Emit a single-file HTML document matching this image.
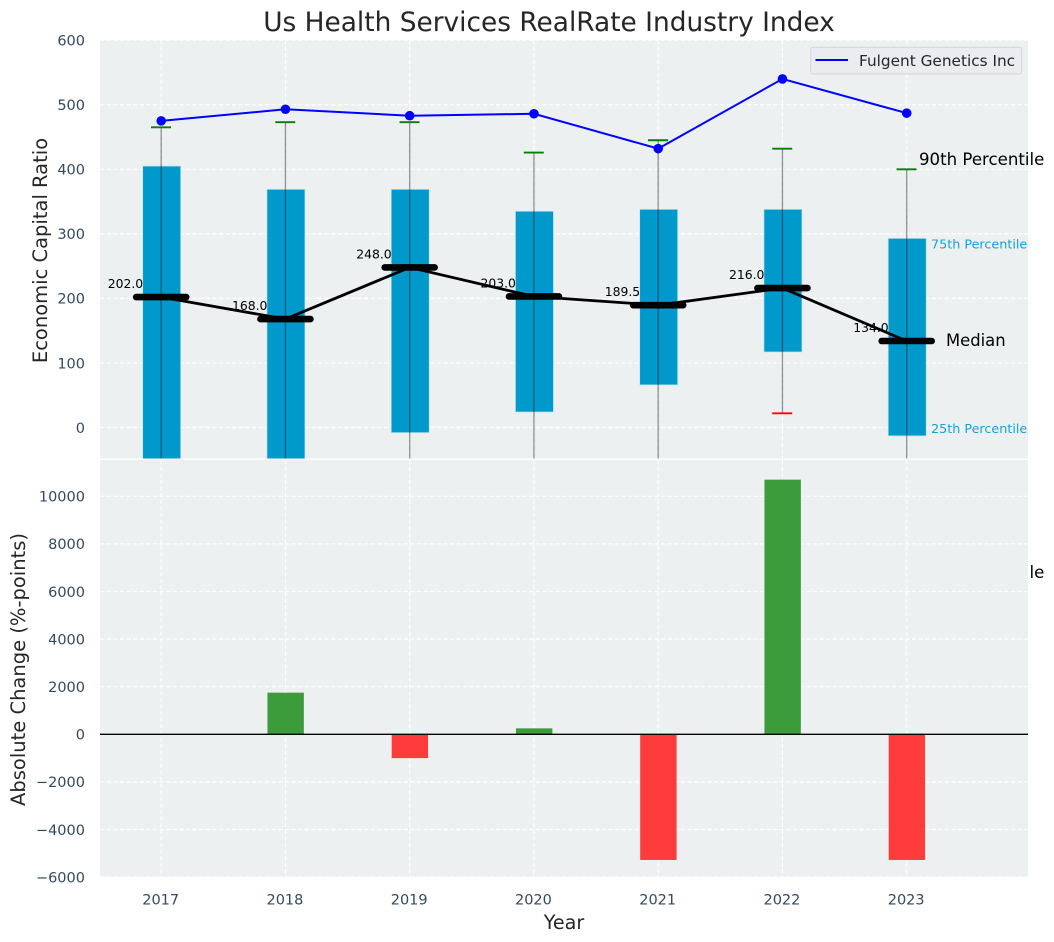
<!DOCTYPE html>
<html lang="en">
<head>
<meta charset="utf-8">
<title>Us Health Services RealRate Industry Index</title>
<style>
html,body{margin:0;padding:0;background:#fff;}
svg{display:block;font-family:"DejaVu Sans","Liberation Sans",sans-serif;}
</style>
</head>
<body>
<svg id="chart" xmlns="http://www.w3.org/2000/svg" width="1054" height="942" viewBox="0 0 1054 942">
  <defs>
    <clipPath id="top-clip"><rect x="100" y="40" width="928" height="418.5"></rect></clipPath>
    <clipPath id="bottom-clip"><rect x="100" y="460" width="928" height="417"></rect></clipPath>
  </defs>
  <text x="549" y="31" text-anchor="middle" font-size="26.4" fill="#262626">Us Health Services RealRate Industry Index</text>
  <rect x="100" y="40" width="928" height="418.5" fill="#ecf0f1"></rect>
  <g id="top-grid"></g>
  <g id="top-marks" clip-path="url(#top-clip)"></g>
  <text x="919" y="578" font-size="16.6" fill="#000">90th Percentile</text>
  <rect x="100" y="460" width="928" height="417" fill="#ecf0f1"></rect>
  <g id="bottom-grid"></g>
  <g id="bottom-marks" clip-path="url(#bottom-clip)"></g>
  <g id="labels"></g>
  <g id="notes"></g>
  <text x="919" y="165" font-size="16.6" fill="#000">90th Percentile</text>
  <text x="931" y="248.5" font-size="12.75" fill="#1a9fd0">75th Percentile</text>
  <text x="946" y="346" font-size="16.4" fill="#000">Median</text>
  <text x="931" y="433" font-size="12.75" fill="#1a9fd0">25th Percentile</text>
  <text transform="translate(47,250.5) rotate(-90)" text-anchor="middle" font-size="19.5" fill="#262626">Economic Capital Ratio</text>
  <text transform="translate(25,669.5) rotate(-90)" text-anchor="middle" font-size="19.5" fill="#262626">Absolute Change (%-points)</text>
  <text x="564" y="929" text-anchor="middle" font-size="19.2" fill="#262626">Year</text>
  <g>
    <rect x="810.7" y="47.3" width="211" height="26.7" rx="2.5" fill="#eaecf0" stroke="#d4d4d4" stroke-width="1"></rect>
    <line x1="815.5" y1="60" x2="848" y2="60" stroke="#0000ff" stroke-width="2"></line>
    <text x="859" y="66" font-size="15.3" fill="#262626">Fulgent Genetics Inc</text>
  </g>
</svg>
<script>
const years = [2017, 2018, 2019, 2020, 2021, 2022, 2023];
const p90 = [465, 473, 473, 426, 445, 432, 400];
const p75 = [405, 369, 369, 335, 338, 338, 293];
const medians = [202, 168, 248, 203, 189.5, 216, 134];
const p25 = [-100, -100, -8, 24, 66, 117, -13];
const p10 = [-150, -150, -150, -150, -150, 22, -150];
const company = [475, 493, 483, 486, 432, 540, 487];
const changes = [0, 1750, -1000, 250, -5280, 10700, -5280];
const topTicks = [0, 100, 200, 300, 400, 500, 600];
const bottomTicks = [-6000, -4000, -2000, 0, 2000, 4000, 6000, 8000, 10000];

const NS = 'http://www.w3.org/2000/svg';
const gTopGrid = document.getElementById('top-grid');
const gTop = document.getElementById('top-marks');
const gBotGrid = document.getElementById('bottom-grid');
const gBot = document.getElementById('bottom-marks');
const gLabels = document.getElementById('labels');
const gNotes = document.getElementById('notes');

function x(year) { return 161.2 + (year - 2017) * 124.25; }
function yTop(v) { return 427.5 - v * 0.6455; }
function yBot(v) { return 734.3 - v * 0.0238; }

function mk(parent, tag, props) {
  const el = document.createElementNS(NS, tag);
  for (const k in props) el.setAttribute(k, props[k]);
  parent.appendChild(el);
  return el;
}

const GRID = { stroke: '#ffffff', 'stroke-width': 1.2, 'stroke-dasharray': '4.4 2.2', opacity: 0.95 };

topTicks.forEach(function (t) {
  const g = mk(gTopGrid, 'line', Object.assign({ x1: 100, x2: 1028, y1: yTop(t), y2: yTop(t) }, GRID));
  
  
  const l = mk(gLabels, 'text', { x: 85, y: yTop(t) + 5.3, 'text-anchor': 'end', 'font-size': 14.5, fill: '#34495e' });
  l.textContent = String(t);
  
  
});

bottomTicks.forEach(function (t) {
  const g = mk(gBotGrid, 'line', Object.assign({ x1: 100, x2: 1028, y1: yBot(t), y2: yBot(t) }, GRID));
  
  
  const l = mk(gLabels, 'text', { x: 85, y: yBot(t) + 5.3, 'text-anchor': 'end', 'font-size': 14.5, fill: '#34495e' });
  l.textContent = String(t).replace('-', '\u2212');
  
  
});

years.forEach(function (yr) {
  const a = mk(gTopGrid, 'line', Object.assign({ x1: x(yr), x2: x(yr), y1: 40, y2: 458.5 }, GRID));
  
  
  const b = mk(gBotGrid, 'line', Object.assign({ x1: x(yr), x2: x(yr), y1: 460, y2: 877 }, GRID));
  
  
  const l = mk(gLabels, 'text', { x: x(yr) - 0.5, y: 904.5, 'text-anchor': 'middle', 'font-size': 14.5, fill: '#34495e' });
  l.textContent = String(yr);
  
  
});

/* interquartile boxes */
years.forEach(function (yr, i) {
  const r = mk(gTop, 'rect', { x: x(yr) - 18.5, width: 38, y: yTop(p75[i]), height: yTop(p25[i]) - yTop(p75[i]), fill: '#0099cc', stroke: '#bfe3ef', 'stroke-width': 0.7 });
  
  
});

/* whiskers and caps */
years.forEach(function (yr, i) {
  const w = mk(gTop, 'line', { x1: x(yr), x2: x(yr), y1: yTop(p90[i]), y2: yTop(p10[i]), stroke: '#000', 'stroke-opacity': 0.42, 'stroke-width': 1.3 });
  
  
  const hi = mk(gTop, 'line', { x1: x(yr) - 10.2, x2: x(yr) + 9.8, y1: yTop(p90[i]), y2: yTop(p90[i]), stroke: '#008000', 'stroke-width': 1.9 });
  
  
  const lo = mk(gTop, 'line', { x1: x(yr) - 10.2, x2: x(yr) + 9.8, y1: yTop(p10[i]), y2: yTop(p10[i]), stroke: '#ff0000', 'stroke-width': 1.9 });
  
  
});

/* median connecting line */
const medianLine = mk(gTop, 'polyline', {
  points: years.map(function (yr, i) { return x(yr) + ',' + yTop(medians[i]); }).join(' '),
  fill: 'none', stroke: '#000', 'stroke-width': 2.8
});



/* median bars and labels */
years.forEach(function (yr, i) {
  const m = mk(gTop, 'line', { x1: x(yr) - 25, x2: x(yr) + 25, y1: yTop(medians[i]), y2: yTop(medians[i]), stroke: '#000', 'stroke-width': 6.6, 'stroke-linecap': 'round' });
  
  
  const t = mk(gNotes, 'text', { x: x(yr) - 53.5, y: yTop(medians[i]) - 9, 'font-size': 12.4, fill: '#000' });
  t.textContent = medians[i].toFixed(1);
  
  
});

/* company line */
const companyLine = mk(gTop, 'polyline', {
  points: years.map(function (yr, i) { return x(yr) + ',' + yTop(company[i]); }).join(' '),
  fill: 'none', stroke: '#0000ff', 'stroke-width': 2
});


years.forEach(function (yr, i) {
  const c = mk(gTop, 'circle', { cx: x(yr), cy: yTop(company[i]), r: 4.8, fill: '#0000ff' });
  
  
});

/* change bars */
years.forEach(function (yr, i) {
  const v = changes[i];
  if (v === 0) return;
  const y0 = Math.min(yBot(v), yBot(0));
  const h = Math.abs(yBot(v) - yBot(0));
  const r = mk(gBot, 'rect', { x: x(yr) - 18, width: 36.4, y: y0, height: h, fill: v > 0 ? '#3c9c3c' : '#ff3c3c' });
  
  
});

const zeroLine = mk(gBot, 'line', { x1: 100, x2: 1028, y1: yBot(0), y2: yBot(0), stroke: '#000', 'stroke-width': 1.3 });


</script>
</body>
</html>
